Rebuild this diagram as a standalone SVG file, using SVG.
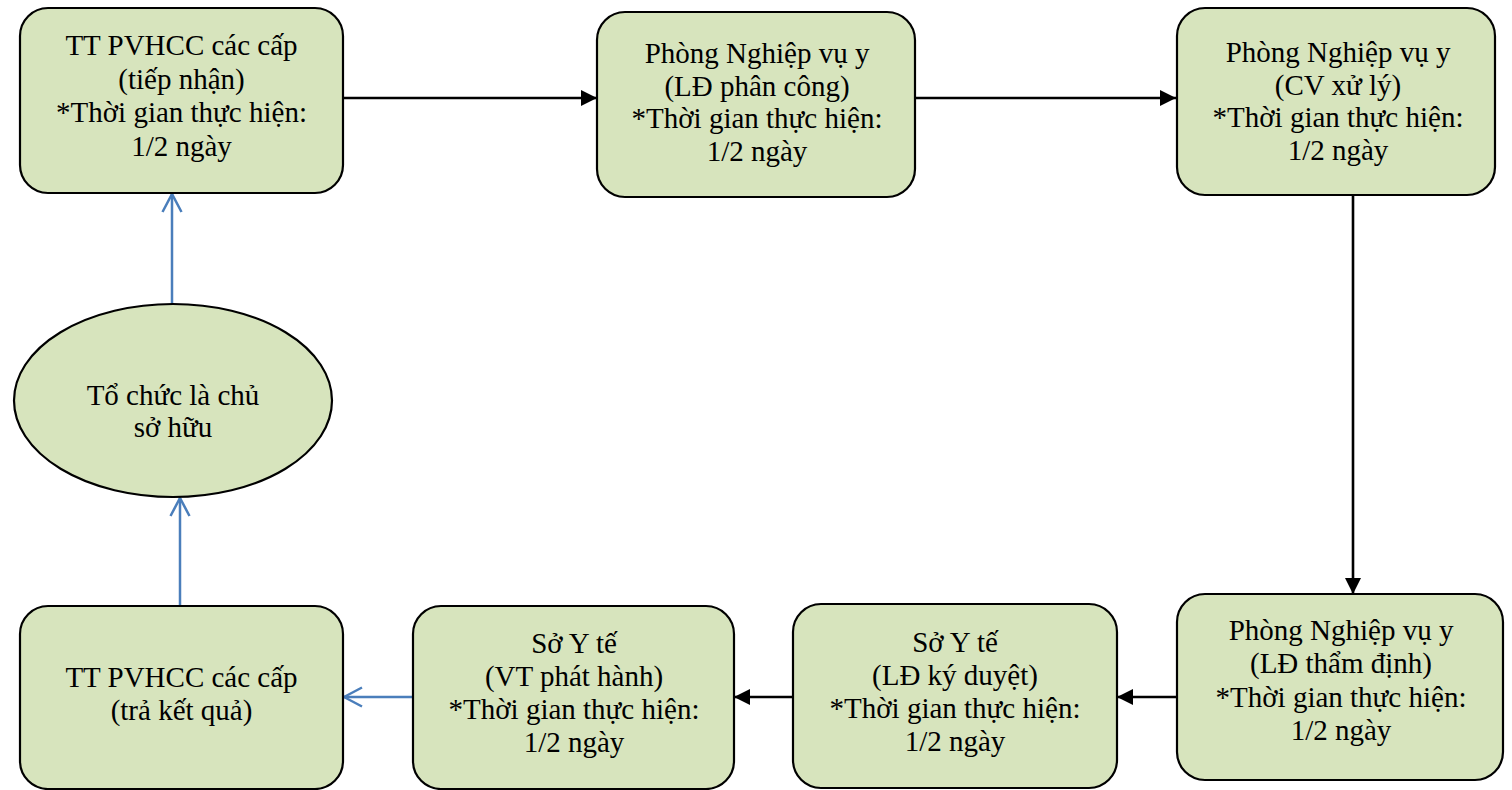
<svg xmlns="http://www.w3.org/2000/svg" width="1512" height="790" viewBox="0 0 1512 790">
<style>
.box{fill:#d7e4bd;stroke:#000;stroke-width:2.2}
.t{font-family:"Liberation Serif","Times New Roman",serif;font-size:29px;fill:#000;text-anchor:middle}
.blk{stroke:#000;stroke-width:2.6;fill:none}
.blu{stroke:#4a7ebb;stroke-width:2.5;fill:none}
</style>
<defs>
<marker id="ah" markerUnits="userSpaceOnUse" markerWidth="18" markerHeight="18" viewBox="0 0 18 18" refX="17" refY="9" orient="auto">
<path d="M1,1 L17,9 L1,17 Z" fill="#000"/>
</marker>
<marker id="ob" markerUnits="userSpaceOnUse" markerWidth="22" markerHeight="24" viewBox="0 0 22 24" refX="20" refY="12" orient="auto">
<path d="M2,2.5 L20,12 L2,21.5" fill="none" stroke="#4a7ebb" stroke-width="2.5"/>
</marker>
</defs>
<g id="connectors">
<line class="blk" x1="343" y1="98" x2="597" y2="98" marker-end="url(#ah)"/>
<line class="blk" x1="915" y1="98" x2="1176" y2="98" marker-end="url(#ah)"/>
<line class="blk" x1="1353" y1="195" x2="1353" y2="594" marker-end="url(#ah)"/>
<line class="blk" x1="1177" y1="697" x2="1117" y2="697" marker-end="url(#ah)"/>
<line class="blk" x1="793" y1="697" x2="734" y2="697" marker-end="url(#ah)"/>
<line class="blu" x1="413" y1="697" x2="344" y2="697" marker-end="url(#ob)"/>
<line class="blu" x1="180" y1="606" x2="180" y2="498" marker-end="url(#ob)"/>
<line class="blu" x1="172" y1="304" x2="172" y2="194" marker-end="url(#ob)"/>
</g>
<g id="n1">
<rect class="box" x="20" y="8" width="323" height="185" rx="28"/>
<text class="t" x="181.5" y="55">TT PVHCC các cấp</text>
<text class="t" x="181.5" y="88.5">(tiếp nhận)</text>
<text class="t" x="181.5" y="122">*Thời gian thực hiện:</text>
<text class="t" x="181.5" y="155.5">1/2 ngày</text>
</g>
<g id="n2">
<rect class="box" x="597" y="12" width="318" height="185" rx="28"/>
<text class="t" x="757" y="63">Phòng Nghiệp vụ y</text>
<text class="t" x="757" y="95.5">(LĐ phân công)</text>
<text class="t" x="757" y="128">*Thời gian thực hiện:</text>
<text class="t" x="757" y="160.5">1/2 ngày</text>
</g>
<g id="n3">
<rect class="box" x="1177" y="8" width="318" height="187" rx="28"/>
<text class="t" x="1338" y="62">Phòng Nghiệp vụ y</text>
<text class="t" x="1338" y="94.5">(CV xử lý)</text>
<text class="t" x="1338" y="127">*Thời gian thực hiện:</text>
<text class="t" x="1338" y="159.5">1/2 ngày</text>
</g>
<g id="n4">
<rect class="box" x="1177" y="594" width="326" height="186" rx="28"/>
<text class="t" x="1341" y="640">Phòng Nghiệp vụ y</text>
<text class="t" x="1341" y="673">(LĐ thẩm định)</text>
<text class="t" x="1341" y="707">*Thời gian thực hiện:</text>
<text class="t" x="1341" y="740">1/2 ngày</text>
</g>
<g id="n5">
<rect class="box" x="793" y="604" width="324" height="184" rx="28"/>
<text class="t" x="955" y="652">Sở Y tế</text>
<text class="t" x="955" y="685">(LĐ ký duyệt)</text>
<text class="t" x="955" y="718">*Thời gian thực hiện:</text>
<text class="t" x="955" y="751">1/2 ngày</text>
</g>
<g id="n6">
<rect class="box" x="413" y="606" width="321" height="183" rx="28"/>
<text class="t" x="574" y="653">Sở Y tế</text>
<text class="t" x="574" y="686">(VT phát hành)</text>
<text class="t" x="574" y="719">*Thời gian thực hiện:</text>
<text class="t" x="574" y="752">1/2 ngày</text>
</g>
<g id="n7">
<rect class="box" x="20" y="606" width="323" height="183" rx="28"/>
<text class="t" x="181.5" y="687">TT PVHCC các cấp</text>
<text class="t" x="181.5" y="720">(trả kết quả)</text>
</g>
<g id="n8">
<ellipse class="box" cx="173" cy="400.5" rx="159" ry="96.5"/>
<text class="t" x="173" y="405">Tổ chức là chủ</text>
<text class="t" x="173" y="437">sở hữu</text>
</g>
</svg>
